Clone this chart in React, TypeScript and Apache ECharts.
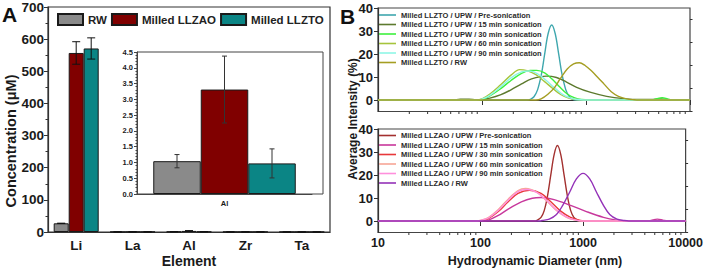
import React, { useEffect, useRef } from 'react';
import * as echarts from 'echarts';

// ---------- Panel A data ----------
const elements = ['Li', 'La', 'Al', 'Zr', 'Ta'];
const seriesNamesA = ['RW', 'Milled LLZAO', 'Milled LLZTO'];
const rwConc = [27, 0.3, 1.04, 0.3, 0.1];
const llzaoConc = [557, 0.6, 3.31, 0.3, 0.2];
const llztoConc = [571, 0.5, 0.97, 0.4, 0.2];
const rwErr = [0, 0.2, 0.21, 0.2, 0.1];
const llzaoErr = [35, 0.5, 1.06, 0.3, 0.1];
const llztoErr = [33, 0.4, 0.46, 0.3, 0.1];
const insetCategories = ['Al'];
const insetElementIndex = 2;
const concTicks = [0, 700, 100];
const insetTicks = [0, 4.5, 0.5];

// ---------- Panel B data: [diameter nm, intensity %] ----------
const ztoNames = [
  'Milled LLZTO / UPW / Pre-sonication',
  'Milled LLZTO / UPW / 15 min sonication',
  'Milled LLZTO / UPW / 30 min sonication',
  'Milled LLZTO / UPW / 60 min sonication',
  'Milled LLZTO / UPW / 90 min sonication',
  'Milled LLZTO / RW',
];
const zaoNames = [
  'Milled LLZAO / UPW / Pre-sonication',
  'Milled LLZAO / UPW / 15 min sonication',
  'Milled LLZAO / UPW / 30 min sonication',
  'Milled LLZAO / UPW / 60 min sonication',
  'Milled LLZAO / UPW / 90 min sonication',
  'Milled LLZAO / RW',
];
const ztoPre = [[10, 0], [270, 0], [295, 0.4], [316, 1.4], [342, 4.4], [372, 11], [400, 19.8], [432, 28.8], [468, 32.6], [506, 28.8], [547, 19.8], [589, 11], [640, 4.4], [692, 1.4], [741, 0.4], [790, 0], [10000, 0]];
const zto15 = [[10, 0], [52, 0], [62, 0.3], [75, 0.3], [88, 0.1], [100, 0.2], [119, 0.8], [150, 2.2], [190, 4.4], [240, 7.0], [300, 9.2], [417, 10.4], [520, 9.8], [650, 7.8], [813, 5.5], [1092, 3.4], [1580, 1.6], [2290, 0.6], [3300, 0.2], [4300, 0.2], [5300, 0.5], [6300, 0], [10000, 0]];
const zto30 = [[10, 0], [90, 0], [105, 0.5], [119, 1.8], [150, 4.8], [190, 8.5], [240, 11.6], [290, 12.8], [336, 12.9], [400, 11.8], [480, 8.8], [560, 5.6], [660, 2.6], [780, 0.9], [900, 0.2], [1100, 0], [4300, 0], [4800, 0.6], [5400, 1.0], [6100, 0.5], [6800, 0], [10000, 0]];
const zto60 = [[10, 0], [88, 0], [100, 0.5], [119, 2.6], [150, 6.5], [190, 10.8], [230, 13.2], [270, 12.8], [330, 11], [400, 8], [480, 5], [570, 2.4], [680, 0.8], [800, 0.2], [950, 0], [10000, 0]];
const zto90 = [[10, 0], [88, 0], [100, 0.4], [119, 2.0], [150, 5.6], [190, 9.6], [240, 12.2], [285, 12.6], [340, 11.5], [410, 8.7], [490, 5.6], [580, 2.8], [690, 1.0], [820, 0.2], [950, 0], [10000, 0]];
const ztoRW = [[10, 0], [330, 0], [370, 0.5], [430, 2.5], [500, 5.5], [570, 9.5], [660, 13.5], [760, 15.7], [863, 16.2], [980, 15.0], [1120, 12.8], [1300, 9.8], [1500, 6.8], [1750, 3.6], [2050, 1.6], [2450, 0.5], [2900, 0.1], [3300, 0], [10000, 0]];

const zaoPre = [[10, 0], [340, 0], [355, 0.3], [389, 1.6], [417, 4.4], [447, 10.2], [484, 19.9], [522, 28.9], [562, 32.8], [606, 28.9], [653, 19.9], [708, 10.2], [759, 4.4], [813, 1.6], [891, 0.3], [950, 0], [10000, 0]];
const zao15 = [[10, 0], [100, 0], [119, 0.4], [149, 2.4], [186, 5.2], [250, 8.3], [320, 9.9], [389, 10.2], [522, 9.3], [755, 6.8], [1092, 4.0], [1581, 1.6], [2121, 0.4], [2650, 0], [4300, 0], [4800, 0.5], [5300, 0.8], [6000, 0.4], [6600, 0], [10000, 0]];
const zao30 = [[10, 0], [95, 0], [105, 0.3], [119, 1.0], [149, 4.1], [186, 8.4], [232, 12], [300, 13.4], [389, 12], [485, 8.4], [605, 4.3], [755, 1.6], [942, 0.3], [1100, 0], [10000, 0]];
const zao60 = [[10, 0], [92, 0], [102, 0.4], [119, 1.5], [149, 5.0], [186, 9.5], [232, 13.2], [275, 14.1], [350, 12.6], [440, 8.8], [550, 4.6], [690, 1.6], [860, 0.3], [1000, 0], [10000, 0]];
const zao90 = [[10, 0], [93, 0], [103, 0.4], [119, 1.3], [149, 4.6], [186, 9.0], [232, 12.8], [285, 13.7], [360, 12.2], [450, 8.6], [560, 4.5], [700, 1.6], [870, 0.3], [1000, 0], [10000, 0]];
const zaoRW = [[10, 0], [380, 0], [398, 0.2], [468, 0.8], [550, 2.8], [631, 6.7], [741, 12.6], [861, 18.3], [1000, 20.7], [1161, 18.3], [1349, 12.6], [1585, 6.7], [1820, 2.8], [2138, 0.8], [2512, 0.2], [2800, 0], [10000, 0]];

const diameterRange = [10, 10000];
const intensityRange = [-5, 40];
const intensityLabels = [0, 10, 20, 30, 40];
const intensityMinor = [-5, 5, 15, 25, 35];

// ---------- styles ----------
const FONT = 'Liberation Sans, Arial, sans-serif';
const barColors = ['#8a8a8a', '#800000', '#0b8585'];
const ztoColors = ['#3fa7ae', '#5d7a2e', '#3df03d', '#a6c43c', '#8ff6e6', '#a59e22'];
const zaoColors = ['#a3302f', '#c8389c', '#e8383a', '#f7a697', '#ff8fdc', '#9432b8'];
const BAR_W = 15;
const INSET_BAR_W = 47.5;

const concValues = [rwConc, llzaoConc, llztoConc];
const concErrors = [rwErr, llzaoErr, llztoErr];

export default function App() {
  const ref = useRef<HTMLDivElement>(null);

  useEffect(() => {
    if (!ref.current) return;
    const chart = echarts.init(ref.current, undefined, { renderer: 'svg' });

    const axisLineStyle = { color: '#333', width: 1.2 };
    const labelBold = (size: number) => ({ fontFamily: FONT, fontWeight: 'bold' as const, fontSize: size, color: '#1a1a1a' });

    const mainErrData = concValues.flatMap((vals, k) =>
      vals.map((v, i) => [i, v - concErrors[k][i], v + concErrors[k][i], k])
    );
    const insetErrData = concValues.map((vals, k) => [
      0,
      vals[insetElementIndex] - concErrors[k][insetElementIndex],
      vals[insetElementIndex] + concErrors[k][insetElementIndex],
      k,
    ]);

    const errRender = (barW: number, cap: number, color: string) => (params: any, api: any) => {
      const i = api.value(0);
      const lo = api.value(1);
      const hi = api.value(2);
      const k = api.value(3);
      const top = api.coord([i, hi]);
      const bot = api.coord([i, lo]);
      const x = top[0] + (k - 1) * barW;
      const st = { stroke: color, lineWidth: 1 };
      return {
        type: 'group',
        children: [
          { type: 'line', shape: { x1: x, y1: top[1], x2: x, y2: bot[1] }, style: st },
          { type: 'line', shape: { x1: x - cap, y1: top[1], x2: x + cap, y2: top[1] }, style: st },
          { type: 'line', shape: { x1: x - cap, y1: bot[1], x2: x + cap, y2: bot[1] }, style: st },
        ],
      };
    };

    const barSeries = seriesNamesA.flatMap((name, k) => [
      {
        type: 'bar', name, xAxisIndex: 0, yAxisIndex: 0, data: concValues[k],
        barWidth: BAR_W, barGap: '0%',
        itemStyle: { color: barColors[k], borderColor: '#1a1a1a', borderWidth: 1 },
      },
      {
        type: 'bar', name, xAxisIndex: 1, yAxisIndex: 1, data: [concValues[k][insetElementIndex]],
        barWidth: INSET_BAR_W, barGap: '0%',
        itemStyle: { color: barColors[k], borderColor: '#1a1a1a', borderWidth: 1 },
      },
    ]);

    const ztoData = [ztoPre, zto15, zto30, zto60, zto90, ztoRW];
    const zaoData = [zaoPre, zao15, zao30, zao60, zao90, zaoRW];
    const lineSeries = [
      ...ztoNames.map((name, k) => ({
        type: 'line', name, xAxisIndex: 2, yAxisIndex: 2, data: ztoData[k],
        smooth: 0.35, symbol: 'none', lineStyle: { color: ztoColors[k], width: 1.4 },
        itemStyle: { color: ztoColors[k] },
      })),
      ...zaoNames.map((name, k) => ({
        type: 'line', name, xAxisIndex: 3, yAxisIndex: 4, data: zaoData[k],
        smooth: 0.35, symbol: 'none', lineStyle: { color: zaoColors[k], width: 1.4 },
        itemStyle: { color: zaoColors[k] },
      })),
    ];

    const logAxis = (gridIndex: number, showLabel: boolean) => ({
      type: 'log', gridIndex, logBase: 10, min: diameterRange[0], max: diameterRange[1],
      axisLine: { lineStyle: axisLineStyle },
      axisTick: { show: true, length: 5, lineStyle: { color: '#333' } },
      axisLabel: { show: showLabel, margin: 4, formatter: (v: number) => String(Math.round(v)), ...labelBold(12.5) },
      splitLine: { show: false },
    });
    const intensityAxes = (gridIndex: number) => [
      {
        type: 'value', gridIndex, min: intensityRange[0], max: intensityRange[1],
        axisLine: { show: true, lineStyle: axisLineStyle },
        axisTick: { show: true, length: 4, customValues: intensityLabels, lineStyle: { color: '#333' } },
        axisLabel: { customValues: intensityLabels, margin: 5, ...labelBold(13) },
        splitLine: { show: false },
      },
      {
        type: 'value', gridIndex, min: intensityRange[0], max: intensityRange[1],
        axisLine: { show: false },
        axisTick: { show: true, length: 2.5, customValues: intensityMinor, lineStyle: { color: '#333' } },
        axisLabel: { show: false },
        splitLine: { show: false },
      },
    ];

    const baseGraphics: any[] = [
      { type: 'text', left: 2, top: 4, style: { text: 'A', font: `bold 21px ${FONT}`, fill: '#111' } },
      { type: 'text', left: 340, top: 6, style: { text: 'B', font: `bold 21px ${FONT}`, fill: '#111' } },
      {
        type: 'text', x: 11, y: 141, rotation: Math.PI / 2,
        style: { text: 'Concentration (\u03bcM)', font: `bold 14.5px ${FONT}`, fill: '#1a1a1a', align: 'center', verticalAlign: 'middle' },
      },
      { type: 'text', x: 189, y: 261, style: { text: 'Element', font: `bold 14px ${FONT}`, fill: '#1a1a1a', align: 'center', verticalAlign: 'middle' } },
      {
        type: 'text', x: 353, y: 119, rotation: Math.PI / 2,
        style: { text: 'Average Intensity (%)', font: `bold 12px ${FONT}`, fill: '#1a1a1a', align: 'center', verticalAlign: 'middle' },
      },
      { type: 'text', x: 535, y: 261, style: { text: 'Hydrodynamic Diameter (nm)', font: `bold 12.5px ${FONT}`, fill: '#1a1a1a', align: 'center', verticalAlign: 'middle' } },
      { type: 'rect', shape: { x: 137, y: 52, width: 186, height: 142 }, style: { fill: 'none', stroke: '#444', lineWidth: 1 }, silent: true },
    ];

    const lineLegend = (data: string[], top: number) => ({
      data, orient: 'vertical', left: 379, top, padding: 0, itemWidth: 17, itemHeight: 1.6, itemGap: 1.5,
      icon: 'rect', selectedMode: false,
      textStyle: { ...labelBold(7.5), color: '#2a2a2a', lineHeight: 8 },
    });

    const option: any = {
      animation: false,
      backgroundColor: '#fff',
      textStyle: { fontFamily: FONT },
      grid: [
        { left: 48, top: 6, width: 282, height: 226, show: true, borderColor: '#333', borderWidth: 1.2, backgroundColor: 'transparent' },
        { left: 137, top: 52, width: 175, height: 142 },
        { left: 378, top: 8, width: 312, height: 103.5, show: true, borderColor: '#444', borderWidth: 1.2, backgroundColor: 'transparent' },
        { left: 378, top: 129, width: 312, height: 103.5, show: true, borderColor: '#444', borderWidth: 1.2, backgroundColor: 'transparent' },
      ],
      legend: [
        {
          data: seriesNamesA, left: 57, top: 13, padding: 0, itemWidth: 25, itemHeight: 11, itemGap: 4,
          icon: 'rect', selectedMode: false,
          textStyle: { ...labelBold(11.5), color: '#222' },
        },
        lineLegend(ztoNames, 11),
        lineLegend(zaoNames, 131.5),
      ],
      xAxis: [
        {
          type: 'category', gridIndex: 0, data: elements,
          axisLine: { lineStyle: axisLineStyle },
          axisTick: { alignWithLabel: true, length: 4, lineStyle: { color: '#333' } },
          axisLabel: { margin: 6, ...labelBold(13.5) },
        },
        {
          type: 'category', gridIndex: 1, data: insetCategories,
          axisLine: { lineStyle: { color: '#444', width: 1 } },
          axisTick: { alignWithLabel: true, length: 3, lineStyle: { color: '#444' } },
          axisLabel: { margin: 5, ...labelBold(7.5) },
        },
        logAxis(2, false),
        logAxis(3, true),
      ],
      yAxis: [
        {
          type: 'value', gridIndex: 0, min: concTicks[0], max: concTicks[1], interval: concTicks[2],
          axisLine: { show: true, lineStyle: axisLineStyle },
          axisTick: { show: true, length: 4, lineStyle: { color: '#333' } },
          minorTick: { show: true, splitNumber: 2, length: 2.5, lineStyle: { color: '#333' } },
          axisLabel: { margin: 4, ...labelBold(13.5) },
          splitLine: { show: false },
        },
        {
          type: 'value', gridIndex: 1, min: insetTicks[0], max: insetTicks[1], interval: insetTicks[2],
          axisLine: { show: true, lineStyle: { color: '#444', width: 1 } },
          axisTick: { show: true, length: 3, lineStyle: { color: '#444' } },
          minorTick: { show: true, splitNumber: 5, length: 1.5, lineStyle: { color: '#444' } },
          axisLabel: { margin: 4, formatter: (v: number) => v.toFixed(1), ...labelBold(7.5) },
          splitLine: { show: false },
        },
        ...intensityAxes(2),
        ...intensityAxes(3),
      ],
      series: [
        ...barSeries,
        {
          type: 'custom', name: 'errMain', xAxisIndex: 0, yAxisIndex: 0, data: mainErrData,
          renderItem: errRender(BAR_W, 4, '#111'), z: 5, silent: true,
        },
        {
          type: 'custom', name: 'errInset', xAxisIndex: 1, yAxisIndex: 1, data: insetErrData,
          renderItem: errRender(INSET_BAR_W, 2.5, '#333'), z: 5, silent: true,
        },
        ...lineSeries,
      ],
      graphic: baseGraphics,
    };

    chart.setOption(option);

    // minor log ticks (2..9 per decade) placed through the log axes' own scale
    const extra: any[] = [];
    [[2, 2], [3, 4]].forEach(([xIdx, yIdx]) => {
      const yBase = chart.convertToPixel({ yAxisIndex: yIdx } as any, intensityRange[0]) as number;
      for (let dec = diameterRange[0]; dec < diameterRange[1]; dec *= 10) {
        for (let m = 2; m <= 9; m++) {
          const px = chart.convertToPixel({ xAxisIndex: xIdx } as any, dec * m) as number;
          extra.push({
            type: 'line', silent: true,
            shape: { x1: px, y1: yBase, x2: px, y2: yBase + 2.5 },
            style: { stroke: '#333', lineWidth: 1 },
          });
        }
      }
    });
    chart.setOption({ graphic: [...baseGraphics, ...extra] });

    return () => chart.dispose();
  }, []);

  return <div ref={ref} style={{ width: 706, height: 269, position: 'absolute', left: 0, top: 0 }} />;
}
